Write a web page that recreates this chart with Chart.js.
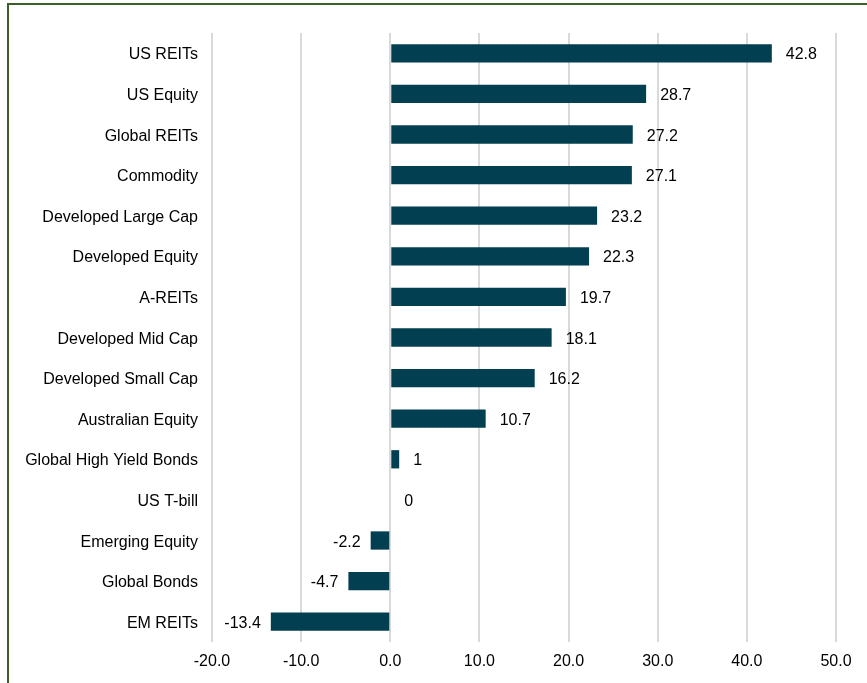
<!DOCTYPE html>
<html>
<head>
<meta charset="utf-8">
<script src="https://cdn.jsdelivr.net/npm/chart.js@4.4.1/dist/chart.umd.min.js"></script>
<style>
  html, body { margin: 0; padding: 0; background: #fff; overflow: hidden; }
  #frame {
    position: absolute; left: 7px; top: 3px;
    width: 900px; height: 720px;
    border: 2px solid #3c5f2a;
  }
  #wrap { position: absolute; left: 0; top: 0; width: 867px; height: 683px; }
</style>
</head>
<body>
<div id="frame"></div>
<div id="wrap"><canvas id="returns"></canvas></div>
<script>
// asset class returns (%)
var categories = [
    'US REITs', 'US Equity', 'Global REITs', 'Commodity', 'Developed Large Cap',
    'Developed Equity', 'A-REITs', 'Developed Mid Cap', 'Developed Small Cap',
    'Australian Equity', 'Global High Yield Bonds', 'US T-bill', 'Emerging Equity',
    'Global Bonds', 'EM REITs'
];
var returns = [42.8, 28.7, 27.2, 27.1, 23.2, 22.3, 19.7, 18.1, 16.2, 10.7, 1, 0, -2.2, -4.7, -13.4];
var valueLabels = ['42.8', '28.7', '27.2', '27.1', '23.2', '22.3', '19.7', '18.1', '16.2', '10.7', '1', '0', '-2.2', '-4.7', '-13.4'];
var xTicks = [-20, -10, 0, 10, 20, 30, 40, 50];

var FONT = { family: '"Liberation Sans", Arial, sans-serif', size: 16 };
var CAP = Math.round(FONT.size * 0.36);   // half the cap height, to centre text on a bar

// category names and bar values, vertically centred on the caps
var barText = {
    id: 'barText',
    afterDatasetsDraw: function (chart) {
        var ctx = chart.ctx;
        var meta = chart.getDatasetMeta(0);
        var yScale = chart.scales.y;
        ctx.save();
        ctx.font = FONT.size + 'px ' + FONT.family;
        ctx.fillStyle = '#000';
        ctx.textBaseline = 'alphabetic';

        ctx.textAlign = 'right';
        categories.forEach(function (name, i) {
            ctx.fillText(name, chart.chartArea.left - 14, yScale.getPixelForTick(i) + CAP);
        });

        meta.data.forEach(function (bar, i) {
            if (returns[i] < 0) {
                ctx.textAlign = 'right';
                ctx.fillText(valueLabels[i], bar.x - 10, bar.y + CAP);
            } else {
                ctx.textAlign = 'left';
                ctx.fillText(valueLabels[i], bar.x + 14, bar.y + CAP);
            }
        });
        ctx.restore();
    }
};

var ctx = document.getElementById('returns').getContext('2d');
var chart = new Chart(ctx, {
    type: 'bar',
    data: {
        labels: categories,
        datasets: [{
            data: returns,
            backgroundColor: '#023f50',
            borderWidth: 0,
            barPercentage: 0.9,
            categoryPercentage: 0.5
        }]
    },
    options: {
        indexAxis: 'y',
        responsive: true,
        maintainAspectRatio: false,
        animation: false,
        layout: { padding: { top: 33, right: 31, bottom: 0, left: 0 } },
        plugins: {
            legend: { display: false },
            tooltip: { enabled: false }
        },
        scales: {
            x: {
                min: -20,
                max: 50,
                afterBuildTicks: function (scale) {
                    scale.ticks = xTicks.map(function (v) { return { value: v }; });
                },
                afterFit: function (scale) { scale.height = 41; },
                grid: { color: '#d9d9d9', lineWidth: 2, drawTicks: false },
                border: { display: false },
                ticks: {
                    padding: 10,
                    color: '#000',
                    font: FONT,
                    maxRotation: 0,
                    callback: function (v) { return Number(v).toFixed(1); }
                }
            },
            y: {
                afterFit: function (scale) { scale.width = 212; },
                grid: { display: false },
                border: { display: false },
                ticks: { display: false }
            }
        }
    },
    plugins: [barText]
});
</script>
</body>
</html>
